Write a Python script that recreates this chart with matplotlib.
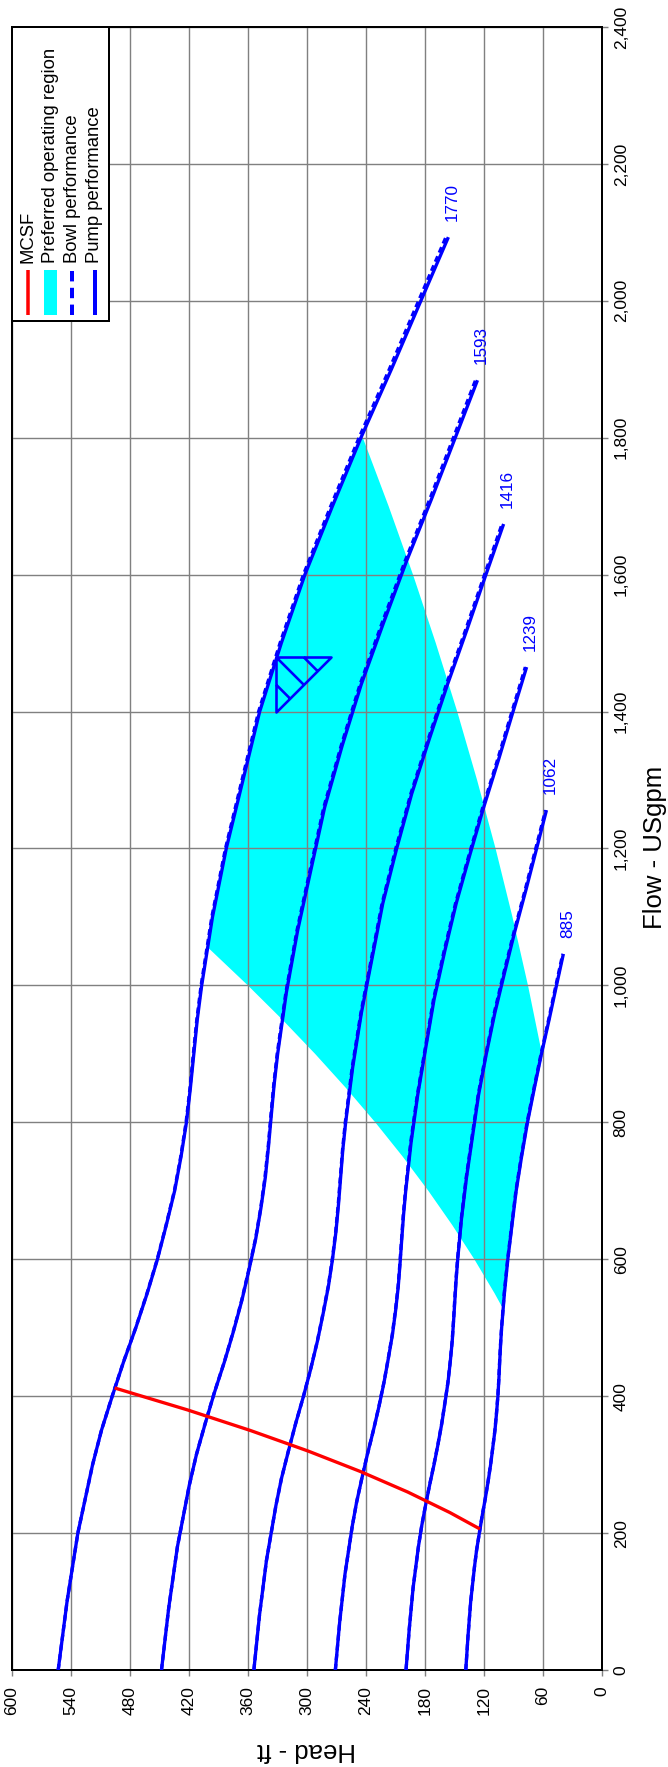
import matplotlib
matplotlib.use("Agg")
import matplotlib.pyplot as plt
from matplotlib.path import Path
from matplotlib.patches import Rectangle

plt.rcParams["font.family"] = ["Liberation Sans", "DejaVu Sans"]

# ---------------------------------------------------------------- data
speeds = [885, 1062, 1239, 1416, 1593, 1770]

flow_885 = [0, 50, 100, 150, 175, 200, 225, 250, 275, 300, 325, 350, 375, 400, 425, 450, 475, 500,
            550, 600, 650, 700, 750, 800, 850, 900, 950, 1000, 1046]
pump_885 = [138.3, 136.0, 133.3, 129.5, 127.3, 124.5, 121.6, 118.5, 115.6, 113.0, 110.8, 108.6, 107.0,
            105.6, 104.6, 103.8, 102.9, 101.8, 99.0, 95.5, 91.3, 87.0, 81.5, 75.5, 68.5, 61.3, 53.5, 46.0, 39.0]
bowl_885 = [138.3, 136.0, 133.3, 129.5, 127.3, 124.5, 121.7, 118.5, 115.7, 113.1, 110.8, 108.7, 107.1,
            105.7, 104.7, 103.9, 103.0, 101.9, 99.2, 95.7, 91.5, 87.3, 81.8, 75.9, 68.9, 61.7, 54.0, 46.6, 39.6]

flow_1062 = [0, 60, 120, 180, 210, 240, 270, 300, 330, 360, 390, 420, 450, 480, 510, 540, 570, 600,
             660, 720, 780, 840, 900, 960, 1020, 1080, 1140, 1200, 1256]
pump_1062 = [199.1, 195.8, 191.9, 186.5, 183.2, 179.3, 175.1, 170.6, 166.5, 162.7, 159.5, 156.4, 154.1,
             152.1, 150.7, 149.4, 148.1, 146.5, 142.6, 137.5, 131.4, 125.3, 117.4, 108.7, 98.6, 88.2, 77.0, 66.2, 56.2]
bowl_1062 = [199.1, 195.8, 191.9, 186.5, 183.2, 179.3, 175.2, 170.7, 166.6, 162.8, 159.6, 156.5, 154.2,
             152.2, 150.8, 149.6, 148.3, 146.7, 142.8, 137.8, 131.8, 125.7, 117.8, 109.3, 99.3, 88.9, 77.8, 67.1, 57.1]

flow_1239 = [0, 70, 140, 210, 245, 280, 315, 350, 385, 420, 455, 490, 525, 560, 595, 630, 665, 700,
             770, 840, 910, 980, 1050, 1120, 1190, 1260, 1330, 1400, 1465]
pump_1239 = [271.0, 266.6, 261.2, 253.8, 249.4, 244.0, 238.4, 232.3, 226.6, 221.5, 217.1, 212.9, 209.7,
             207.0, 205.1, 203.4, 201.6, 199.4, 194.0, 187.2, 178.9, 170.5, 159.7, 148.0, 134.3, 120.1, 104.9, 90.2, 76.4]
bowl_1239 = [271.0, 266.6, 261.2, 253.8, 249.4, 244.1, 238.4, 232.3, 226.7, 221.6, 217.2, 213.1, 209.9,
             207.2, 205.3, 203.6, 201.9, 199.7, 194.4, 187.6, 179.3, 171.1, 160.4, 148.7, 135.1, 121.0, 105.9, 91.3, 77.7]

flow_1416 = [0, 80, 160, 240, 280, 320, 360, 400, 440, 480, 520, 560, 600, 640, 680, 720, 760, 800,
             880, 960, 1040, 1120, 1200, 1280, 1360, 1440, 1520, 1600, 1674]
pump_1416 = [353.9, 348.2, 341.1, 331.5, 325.8, 318.7, 311.4, 303.4, 296.0, 289.3, 283.5, 278.1, 273.9,
             270.4, 267.8, 265.6, 263.4, 260.5, 253.4, 244.5, 233.6, 222.7, 208.6, 193.3, 175.4, 156.8, 137.0, 117.8, 99.8]
bowl_1416 = [353.9, 348.2, 341.1, 331.5, 325.8, 318.8, 311.4, 303.4, 296.1, 289.4, 283.7, 278.3, 274.1,
             270.7, 268.1, 265.9, 263.7, 260.9, 253.9, 245.0, 234.2, 223.4, 209.5, 194.2, 176.4, 158.0, 138.3, 119.2, 101.4]

flow_1593 = [0, 90, 180, 270, 315, 360, 405, 450, 495, 540, 585, 630, 675, 720, 765, 810, 855, 900,
             990, 1080, 1170, 1260, 1350, 1440, 1530, 1620, 1710, 1800, 1884]
pump_1593 = [447.9, 440.6, 431.7, 419.6, 412.3, 403.4, 394.1, 383.9, 374.6, 366.1, 358.8, 352.0, 346.7,
             342.2, 339.0, 336.2, 333.3, 329.7, 320.8, 309.4, 295.7, 281.9, 264.1, 244.6, 221.9, 198.5, 173.3, 149.0, 126.4]
bowl_1593 = [447.9, 440.6, 431.7, 419.6, 412.3, 403.5, 394.2, 384.0, 374.8, 366.3, 359.0, 352.2, 346.9,
             342.6, 339.3, 336.6, 333.7, 330.2, 321.3, 310.1, 296.5, 282.8, 265.1, 245.8, 223.3, 200.0, 175.0, 150.9, 128.4]

flow_1770 = [0, 100, 200, 300, 350, 400, 450, 500, 550, 600, 650, 700, 750, 800, 850, 900, 950, 1000,
             1100, 1200, 1300, 1400, 1500, 1600, 1700, 1800, 1900, 2000, 2093]
pump_1770 = [553, 544, 533, 518, 509, 498, 486.5, 474, 462.5, 452, 443, 434.5, 428, 422.5, 418.5, 415,
             411.5, 407, 396, 382, 365, 348, 326, 302, 274, 245, 214, 184, 156]
bowl_1770 = [553, 544, 533, 518, 509, 498.1, 486.6, 474.1, 462.7, 452.2, 443.2, 434.8, 428.3, 422.9,
             418.9, 415.5, 412.0, 407.6, 396.7, 382.8, 366.0, 349.1, 327.3, 303.5, 275.7, 246.9, 216.1, 186.3, 158.5]

# minimum continuous stable flow line
mcsf_flow = [206, 230, 260, 290, 320, 350, 380, 412]
mcsf_head = [123.9, 154.5, 197.4, 245.6, 299.0, 357.7, 421.6, 495.6]

# preferred operating region outline (flow, head)
por_flow = [527, 550, 600, 650, 700, 750, 800, 850, 900, 950, 1000, 1055,
            1100, 1200, 1300, 1400, 1500, 1600, 1700, 1806,
            1700, 1600, 1500, 1400, 1300, 1200, 1100, 1000, 903,
            850, 800, 750, 700, 650, 600, 550, 527]
por_head = [100.1, 108.9, 129.6, 152.1, 176.4, 202.5, 230.4, 260.1, 291.6, 324.9, 360.0, 400.4,
            396, 382, 365, 348, 326, 302, 274, 244.6,
            216.8, 192.0, 168.8, 147.0, 126.8, 108.0, 90.8, 75.0, 61.2,
            68.5, 75.5, 81.5, 87.0, 91.3, 95.5, 99.0, 100.1]

# best efficiency point at full speed
bep_flow = 1480
bep_head = 331

head_ticks = [0, 60, 120, 180, 240, 300, 360, 420, 480, 540, 600]
flow_ticks = [0, 200, 400, 600, 800, 1000, 1200, 1400, 1600, 1800, 2000, 2200, 2400]
flow_tick_labels = ["0", "200", "400", "600", "800", "1,000", "1,200", "1,400",
                    "1,600", "1,800", "2,000", "2,200", "2,400"]

legend_labels = ["MCSF", "Preferred operating region", "Bowl performance", "Pump performance"]

curves = {
    885: (flow_885, pump_885, bowl_885),
    1062: (flow_1062, pump_1062, bowl_1062),
    1239: (flow_1239, pump_1239, bowl_1239),
    1416: (flow_1416, pump_1416, bowl_1416),
    1593: (flow_1593, pump_1593, bowl_1593),
    1770: (flow_1770, pump_1770, bowl_1770),
}

# ---------------------------------------------------------------- style
BLUE = "#0000FF"
RED = "#FF0000"
CYAN = "#00FFFF"
GRID = "#808080"
PX = 72 / 100  # points per pixel at 100 dpi
LW = 3.3 * PX

W, H = 668, 1767
fig = plt.figure(figsize=(W / 100, H / 100), dpi=100)
ax = fig.add_axes([12 / W, 97 / H, 589.7 / W, 1643 / H])

ax.set_xlim(600, 0)
ax.set_ylim(0, 2400)
ax.set_axisbelow(True)
ax.grid(True, color=GRID, lw=1.4 * PX)

ax.yaxis.tick_right()
ax.yaxis.set_label_position("right")
ax.set_xticks(head_ticks)
ax.set_xticklabels([str(v) for v in head_ticks], rotation=90, ha="center", va="top", fontsize=12.5)
ax.set_yticks(flow_ticks)
ax.set_yticklabels(flow_tick_labels, rotation=90, ha="left", va="center", fontsize=12.5)
ax.tick_params(axis="both", direction="out", length=6 * PX, width=1.4 * PX, color=GRID)
ax.tick_params(axis="x", pad=10 * PX)
ax.tick_params(axis="y", pad=6 * PX)
for s in ax.spines.values():
    s.set_linewidth(2 * PX)
    s.set_color("black")

ax.set_xlabel("Head - ft", fontsize=18.5, rotation=180)
ax.xaxis.set_label_coords(0.5, -0.0487)
ax.xaxis.label.set_va("center")
ax.set_ylabel("Flow - USgpm", fontsize=18.5, rotation=90)
ax.yaxis.set_label_coords(1.0904, 0.5006)
ax.yaxis.label.set_ha("center")
ax.yaxis.label.set_va("center")

# preferred operating region
ax.fill(por_head, por_flow, color=CYAN, lw=0, zorder=0.3)

# performance curves
for sp in speeds:
    q, hp, hb = curves[sp]
    ax.plot(hb, q, color=BLUE, lw=LW, dashes=(1.8, 1.2), zorder=3)
    ax.plot(hp, q, color=BLUE, lw=LW, zorder=4, solid_capstyle="butt",
            solid_joinstyle="round")
    ax.annotate(str(sp), xy=(hp[-1], q[-1]), xytext=(4 * PX, 16 * PX),
                textcoords="offset points", rotation=90, ha="center", va="bottom",
                color=BLUE, fontsize=12.3)

# MCSF line
ax.plot(mcsf_head, mcsf_flow, color=RED, lw=LW, zorder=5, solid_capstyle="butt")

# BEP symbol: hatched right triangle hanging off the duty point
tri = Path(
    [(0, 0), (1, 0), (0, -1), (0, 0),
     (0, 0), (0.5, -0.5),
     (0.5, 0), (0.75, -0.25),
     (0, -0.5), (0.25, -0.75)],
    [Path.MOVETO, Path.LINETO, Path.LINETO, Path.CLOSEPOLY,
     Path.MOVETO, Path.LINETO,
     Path.MOVETO, Path.LINETO,
     Path.MOVETO, Path.LINETO])
ax.plot([bep_head], [bep_flow], ls="none", marker=tri, ms=2 * 55 * PX,
        mfc="none", mec=BLUE, mew=2.6 * PX, zorder=6)

# legend, drawn in axes coordinates with vertical entries
T = ax.transAxes
ax.add_patch(Rectangle((0, 0.8212), 0.1645, 1 - 0.8212, transform=T,
                       facecolor="white", edgecolor="black", lw=2 * PX, zorder=10))
y0, y1 = 0.8247, 0.8521
xs = [0.0266, 0.0650, 0.1024, 0.1401]
ax.plot([xs[0], xs[0]], [y0, y1], transform=T, color=RED, lw=3.5 * PX, zorder=11,
        solid_capstyle="butt")
ax.add_patch(Rectangle((xs[1] - 0.0105, y0), 0.021, y1 - y0, transform=T,
                       facecolor=CYAN, lw=0, zorder=11))
ax.plot([xs[2], xs[2]], [y0, y1], transform=T, color=BLUE, lw=4 * PX, zorder=11,
        dashes=(2.6, 1.6))
ax.plot([xs[3], xs[3]], [y0, y1], transform=T, color=BLUE, lw=4 * PX, zorder=11,
        solid_capstyle="butt")
for x, lab in zip(xs, legend_labels):
    ax.text(x, 0.8562, lab, transform=T, rotation=90, ha="center", va="bottom",
            fontsize=13.3, zorder=12)

fig.savefig("out.png", dpi=100)
